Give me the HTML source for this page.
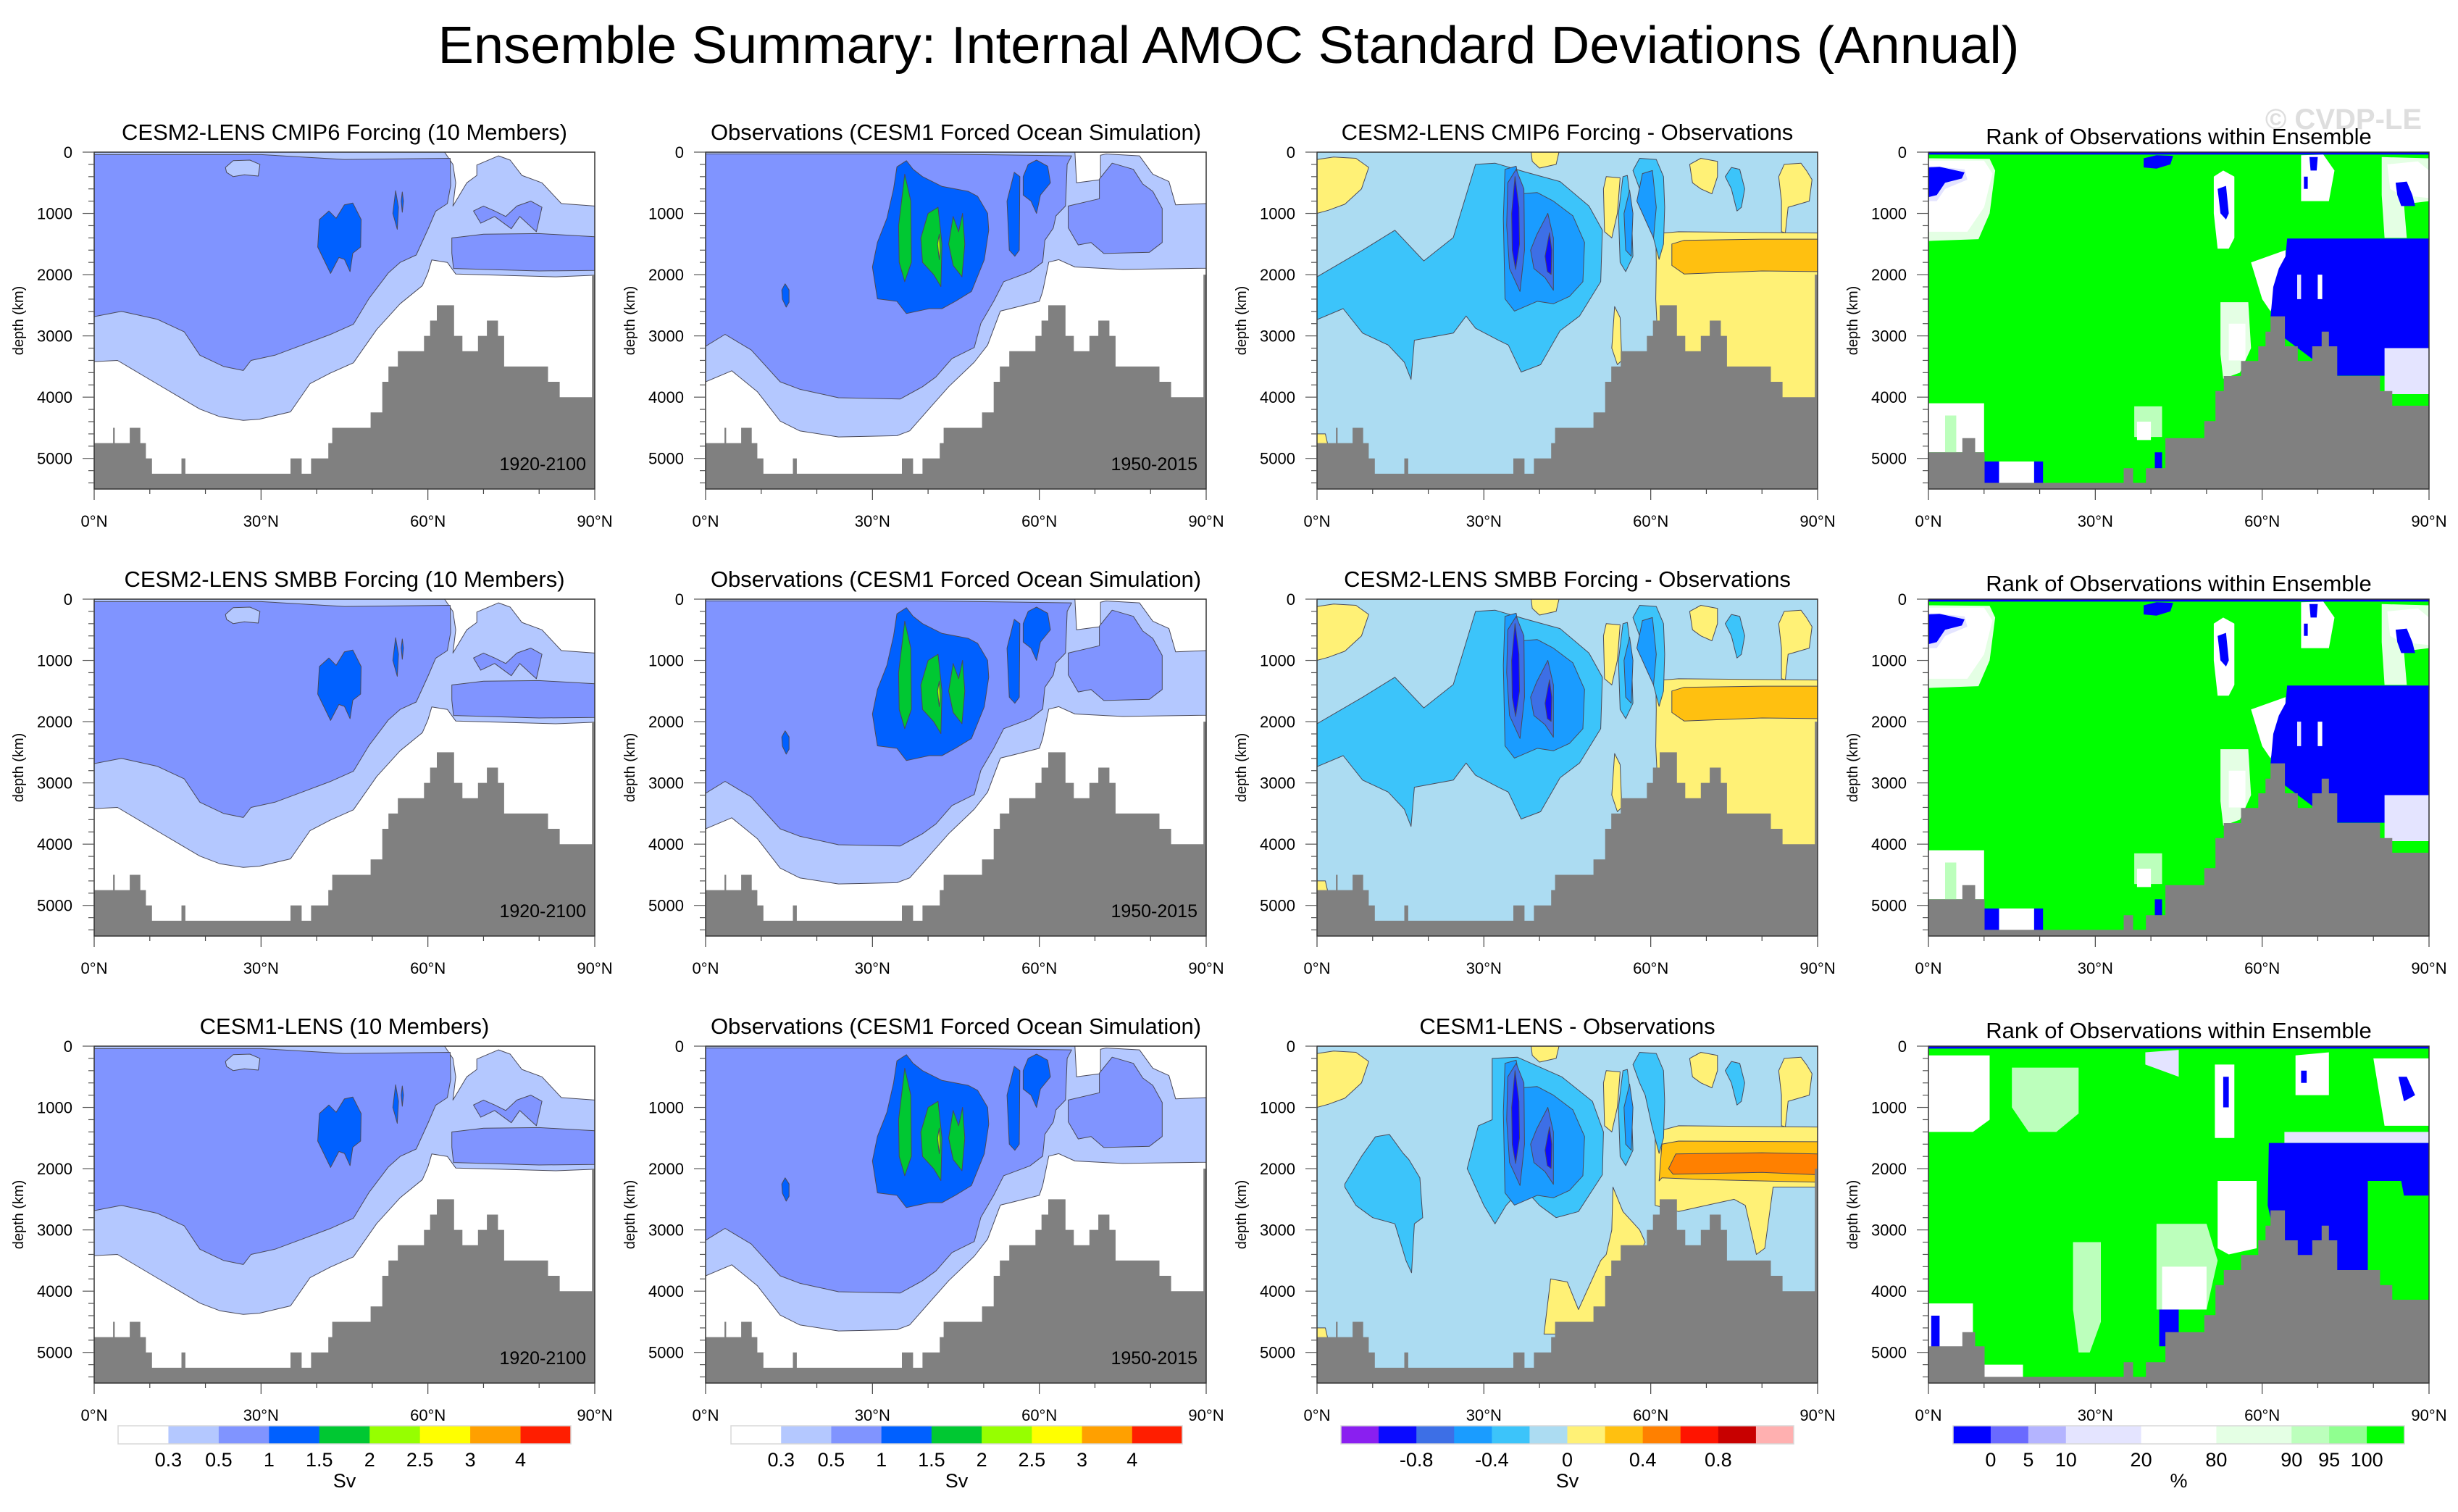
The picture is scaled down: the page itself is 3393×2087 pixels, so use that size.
<!DOCTYPE html>
<html><head><meta charset="utf-8"><title>Ensemble Summary AMOC</title>
<style>
html,body{margin:0;padding:0;background:#fff;}
svg{display:block;font-family:"Liberation Sans",Arial,sans-serif;}
</style></head>
<body>
<svg id="fig" xmlns="http://www.w3.org/2000/svg" width="3393" height="2087" viewBox="0 0 3393 2087">
<rect x="0" y="0" width="3393" height="2087" fill="#fff"/>
<text x="1696" y="87" font-size="72" text-anchor="middle" textLength="2183" lengthAdjust="spacingAndGlyphs">Ensemble Summary: Internal AMOC Standard Deviations (Annual)</text>
<text x="3343" y="178" font-size="40" font-weight="bold" fill="#dedede" text-anchor="end">© CVDP-LE</text>
<g id="panels"></g>
<g id="bars"></g>
</svg>
<script>
// ---------- data ----------
const latTicks = [0, 30, 60, 90];
const latTickLabels = ["0°N", "30°N", "60°N", "90°N"];
const depthTicks = [0, 1000, 2000, 3000, 4000, 5000];
const depthTickLabels = ["0", "1000", "2000", "3000", "4000", "5000"];
const bathyEdges = [0,3.4,3.7,6.4,8.3,9.3,10.4,15.7,16.4,35.3,37.3,39.0,42.1,42.8,49.7,51.8,52.9,54.6,59.3,60.4,61.6,64.7,66.2,69.0,70.6,72.6,73.7,81.6,83.7,89.5,90];
const bathyDepths = [4750,4500,4750,4500,4750,5000,5250,5000,5250,5000,5250,5000,4750,4500,4250,3750,3500,3250,3000,2750,2500,3000,3250,3000,2750,3000,3500,3750,4000,2000];
const rankEdges = [0,6.1,8.4,10.1,35.1,36.8,39.1,42.6,49.6,51.6,53.1,56.2,59.3,60.6,61.5,64.1,66.4,69.0,70.7,72.0,73.5,81.2,83.4,90];
const rankDepths = [4900,4670,4900,5400,5160,5400,5160,4670,4390,3900,3655,3410,3170,2930,2680,3170,3410,3170,2930,3170,3655,3900,4140];

const LIGHT_A = [[0,0],[63,0],[64.5,200],[65,500],[64.5,880],[67,500],[68.8,380],[68.8,210],[72.7,60],[74.8,130],[76.9,380],[80.5,500],[84,840],[90,880],[90,2010],[83,2035],[65,1990],[63.5,1800],[60.7,1760],[60,1970],[59,2180],[55,2475],[50.8,2895],[46.6,3440],[42.4,3610],[38.8,3780],[35.3,4240],[29.7,4360],[26.8,4380],[22.6,4320],[19,4195],[12,3820],[4.2,3400],[0,3420]];
const MED_A = [[0,40],[30,40],[45,120],[55,110],[64,100],[64.1,545],[63.5,840],[61.4,965],[60,1260],[57.9,1680],[55,1800],[52.9,1970],[49.4,2390],[46.6,2810],[42.4,2980],[37.4,3150],[32.5,3315],[28.2,3400],[26.8,3565],[23.3,3500],[19,3315],[16.2,2935],[11.3,2727],[4.9,2600],[0,2685]];
const POCKET_A = [[23.6,250],[25,140],[28,130],[29.8,200],[29.5,390],[27,370],[25,400],[23.8,330]];
const BAND_A = [[64.3,1400],[70,1340],[80,1330],[90,1380],[90,1930],[80,1940],[64.6,1900],[64.3,1650]];
const BLOB_A = [[68.2,960],[70,880],[72,960],[74,1050],[76,880],[78.5,800],[80.5,900],[79.5,1300],[76.5,1050],[75,1250],[72,1050],[69.5,1160]];
const DARK_A1 = [[40.5,1100],[42.2,960],[43.5,1080],[45,860],[46.5,830],[48,1100],[47.9,1550],[46.5,1650],[46,1950],[45,1750],[44,1720],[42.5,1980],[40.2,1550]];
const DARK_A2 = [[53.7,1000],[54.2,630],[54.7,900],[54.5,1260]];
const DARK_A3 = [[55.2,800],[55.4,650],[55.6,800],[55.4,980]];

const LIGHT_B = [[0,0],[66.4,0],[66.7,500],[71,450],[71,50],[72,30],[78,60],[80.4,360],[83.3,480],[84.5,860],[90,840],[90,1895],[75,1915],[66.4,1875],[63.5,1755],[61.7,1795],[60.6,2275],[60,2435],[55.9,2530],[53,2595],[50.7,3150],[48.3,3430],[43.7,3830],[40.2,4190],[36.7,4550],[34.4,4630],[23.9,4650],[16.9,4550],[13.4,4390],[9.3,3910],[4.7,3570],[0,3750]];
const MED_B = [[0,30],[40,30],[65.8,60],[65,200],[64.7,880],[63,1040],[62.5,1240],[61,1440],[60.6,1795],[58.3,1955],[53.6,2115],[51.8,2435],[49.5,2795],[48.3,3190],[44.3,3370],[41.4,3670],[39,3830],[35,4030],[23.9,4010],[16.9,3870],[13.4,3750],[8.2,3230],[3.5,2975],[0,3170]];
const MED_B_R = [[65.2,880],[70.8,760],[70.8,440],[73.1,180],[76.9,280],[78.6,520],[80.4,640],[82.1,920],[82.1,1475],[79.8,1635],[71.6,1655],[69.3,1475],[67,1515],[65.2,1235]];
const DARK_B1 = [[34.4,240],[36.1,140],[37.3,280],[39,400],[42.5,560],[47.2,640],[48.9,720],[50.7,1000],[50.9,1275],[50.1,1755],[47.8,2275],[44.9,2435],[42.5,2555],[40.2,2555],[36.1,2635],[34.4,2435],[30.9,2395],[30,1875],[30.9,1475],[32.6,1080],[33.8,600]];
const DARK_B2 = [[54.6,1600],[54.2,800],[55.5,330],[56.5,400],[56.4,1600],[55.6,1700]];
const DARK_B3 = [[57.1,400],[58,200],[59.5,130],[61.5,230],[62,500],[60.2,700],[59.5,1000],[58.5,800],[57.1,700]];
const DARK_B4 = [[13.7,2250],[14.3,2150],[15,2250],[15,2450],[14.5,2530],[13.8,2400]];
const GREEN_B1 = [[34.7,1200],[35.8,360],[36.9,800],[37,1800],[35.8,2115],[34.8,1800]];
const GREEN_B2 = [[38.7,1400],[40,1000],[41.8,900],[42.5,1500],[42.3,2195],[41,2000],[39,1800]];
const GREEN_B3 = [[43.7,1500],[44.5,1050],[45.5,1300],[46.2,1000],[46.6,1500],[46.1,2035],[44.5,1850]];
const YEL_B = [[41.7,1500],[42,1340],[42.2,1600],[42,1755]];

const YEL_C1 = [[0,120],[3,80],[7,100],[9.3,250],[8,600],[5,850],[2,950],[0,1000]];
const YEL_C2 = [[60.9,1330],[65,1300],[90,1320],[90,4500],[62,4500],[60.9,2400],[61,1800]];
const ORANGE_C = [[63.8,1500],[66,1440],[80,1420],[90,1420],[90,1950],[80,1940],[66,1990],[63.8,1850]];
const YEL_C3 = [[51.5,600],[52,400],[54.5,420],[54,1000],[53,1400],[51.7,1300]];
const YEL_C4 = [[67,200],[69,100],[72,150],[72,400],[71,680],[69,600],[67.5,500]];
const YEL_C5 = [[83,400],[84,200],[87,180],[88,300],[89,450],[88.5,800],[84.7,900],[84.2,1315],[83.5,1300],[83.5,800]];
const YEL_C6 = [[53,3200],[53.5,2520],[54.5,2700],[54.8,3400],[54,3470]];
const YEL_C7 = [[38.5,0],[43.5,0],[43,200],[40,260],[38.7,150]];
const YEL_C8 = [[0,4600],[1.5,4600],[2.5,5000],[0,5000]];
const CYAN_C = [[0,2035],[8.2,1600],[14,1275],[19.2,1775],[24.5,1395],[28.5,200],[32,180],[37.3,320],[43.7,480],[48.9,880],[51.3,1275],[51,2115],[47.2,2675],[43.7,2915],[40.2,3470],[36.7,3590],[34.4,3150],[32.6,3070],[28.5,2875],[26.8,2675],[24.5,2955],[17.5,3070],[16.9,3710],[15.7,3430],[12.8,3150],[8.2,2955],[4.7,2555],[0,2735]];
const CYAN_C2 = [[54.2,1000],[55,400],[55.8,380],[56.5,900],[56.8,1700],[55.5,1950],[54.5,1800]];
const CYAN_C3 = [[56.8,300],[58,100],[61,120],[62.3,400],[62.5,900],[62.3,1500],[61.5,1750],[60.2,1300],[59,800],[58,600]];
const CYAN_C4 = [[73.4,400],[74.5,250],[76,280],[76.9,600],[76.3,900],[75.5,960],[74.5,600]];
const BLUE_C1 = [[33.8,280],[35.8,230],[36.7,680],[39.6,660],[42.5,800],[46,1040],[48.1,1475],[47.8,2115],[45.4,2355],[42.5,2475],[39.6,2435],[35.5,2595],[33.8,2395],[33.5,1080]];
const BLUE_C2 = [[57.5,800],[58.5,350],[60.3,300],[61,900],[60.5,1400],[59.5,1200],[58.5,1000]];
const BLUE_C3 = [[55.2,1000],[56.2,620],[56.8,1000],[56.5,1700],[55.5,1600]];
const ROYAL_C1 = [[34.3,500],[35.8,280],[37.2,600],[37.3,1600],[36.5,2275],[34.6,1900],[34.1,1200]];
const ROYAL_C2 = [[38.4,1600],[39.5,1350],[41.5,1000],[42.5,1400],[42.5,2255],[41,2050],[39,1900]];
const NAVY_C1 = [[35,1000],[35.6,400],[36.3,900],[36.4,1500],[35.7,1915],[35.1,1600]];
const NAVY_C2 = [[41,1700],[41.8,1315],[42.2,1600],[42.1,1995],[41.4,1950]];
const CYAN_R3_LEFT = [[5,2250],[8,1800],[10.5,1480],[13,1440],[15.5,1750],[16.5,1850],[18.5,2150],[19,2800],[17.5,2900],[17,3700],[16,3500],[14,2900],[10,2800],[7,2600],[5,2300]];
const CYAN_R3_MAIN = [[27,2000],[29,1300],[31.5,1200],[31.5,200],[36,180],[44,500],[49.5,900],[51.5,1400],[51.3,2100],[47,2700],[43,2800],[40,2600],[37,2300],[34,2600],[32,2900],[30,2600]];
const YEL_R3 = [[60.8,1400],[65,1300],[90,1320],[90,2300],[82,2300],[80.5,3300],[79,3400],[77,2600],[75,2500],[70,2600],[65,2700],[60.8,2600]];
const YEL_R3_LOW = [[40.8,4700],[42,3800],[45,3850],[47,4300],[48.5,4000],[50,3700],[51,3500],[52,3400],[53,3000],[53.2,2300],[55,2700],[58,3000],[59,3200],[52,4500],[48,4700]];
const ORANGE_R3 = [[61.5,2200],[62,1600],[65,1550],[90,1560],[90,2220],[70,2180],[62,2150]];
const DKORANGE_R3 = [[63.2,2000],[64.5,1760],[80,1740],[90,1760],[90,2100],[80,2060],[64,2090]];

const RK_TOP = [[0,0],[90,0],[90,40],[0,40]];
const RK_W1 = [[0,100],[11,110],[12,300],[11,1000],[9,1420],[0,1450]];
const RK_W2 = [[0,140],[10,140],[11.5,350],[10,900],[7,1300],[0,1300]];
const RK_L1 = [[0,220],[6.5,280],[7,450],[3,600],[1.5,800],[0,800]];
const RK_B1 = [[0,250],[2,240],[6.5,330],[6,430],[3,500],[1.5,700],[0,735]];
const RK_W3 = [[51.3,400],[53,300],[55,400],[55,1400],[54,1575],[52,1575],[51.3,1000]];
const RK_B3 = [[52,600],[53.5,550],[54,1000],[53.5,1100],[52.5,1000]];
const RK_W4 = [[67,50],[71,40],[73,300],[72,800],[67,800]];
const RK_B4 = [[68.5,80],[70,80],[69.8,300],[68.7,300]];
const RK_B5 = [[67.5,400],[68.2,400],[68.2,600],[67.5,600]];
const RK_G6 = [[81.5,80],[90,100],[90,800],[85.5,850],[86,1400],[82,1400],[81.5,700]];
const RK_W6 = [[82.5,200],[88,150],[90,300],[90,750],[85,700],[83,600]];
const RK_B6 = [[84,500],[86,480],[87,700],[87.5,880],[85,880],[84.3,700]];
const RK_B7 = [[38.7,100],[41,50],[44,60],[43.5,200],[41,270],[38.7,250]];
const RK_W8 = [[58,1800],[64.2,1600],[64.2,2000],[63,2200],[61.5,2600],[60,2400]];
const RK_BLOCK = [[64.5,1410],[90,1410],[90,3300],[85.5,3300],[83,3650],[73,3650],[63.5,3000],[61.5,2700],[62,2200],[63,1900],[64.2,1700]];
const RK_L9 = [[82,3200],[90,3200],[90,3950],[82,3950]];
const RK_W10 = [[70,2000],[70.8,2000],[70.8,2400],[70,2400]];
const RK_W11 = [[66.3,2000],[67,2000],[67,2400],[66.3,2400]];
const RK_G12 = [[52.5,2450],[57.5,2450],[58,3200],[56,3600],[53,3700],[52.5,3300]];
const RK_W12 = [[54,2800],[57,2800],[57,3400],[54,3400]];
const RK_W13 = [[0,4100],[10,4100],[10,4900],[0,4900]];
const RK_G14 = [[3,4300],[5,4300],[5,4900],[3,4900]];
const RK_W15 = [[12.7,5050],[19,5050],[19,5400],[12.7,5400]];
const RK_B15 = [[10,5050],[12.7,5050],[12.7,5400],[10,5400]];
const RK_B16 = [[19,5050],[20.6,5050],[20.6,5400],[19,5400]];
const RK_B17 = [[40.7,4900],[42,4900],[42,5160],[40.7,5160]];
const RK_G18 = [[37,4150],[42,4150],[42,4650],[37,4650]];
const RK_W18 = [[37.5,4400],[40,4400],[40,4700],[37.5,4700]];
const R3_W1 = [[0,150],[11,150],[11,1200],[8,1400],[0,1400]];
const R3_G1 = [[15,350],[27,350],[27,1100],[23,1400],[18,1400],[15,1000]];
const R3_W2 = [[39,100],[45,60],[45,500],[39,300]];
const R3_W3 = [[51.5,300],[55,300],[55,1500],[51.5,1500]];
const R3_B3 = [[53,500],[54,500],[54,1000],[53,1000]];
const R3_W4 = [[66,150],[72,100],[72,800],[66,800]];
const R3_B4 = [[67,400],[68,400],[68,600],[67,600]];
const R3_W5 = [[80,200],[90,200],[90,1300],[82,1300]];
const R3_B5 = [[84.5,500],[86,500],[87.5,800],[85.5,900]];
const R3_L6 = [[64,1400],[90,1400],[90,1580],[64,1580]];
const R3_BLOCK = [[61.2,1580],[90,1580],[90,2440],[85.5,2440],[85,2200],[79,2200],[79,3700],[72,3700],[66,3500],[62,3000],[61,2600]];
const R3_W7 = [[52,2200],[59,2200],[59,3300],[54,3400],[52,3300]];
const R3_G8 = [[41,2900],[50,2900],[52,3500],[50,4300],[41,4300]];
const R3_W8 = [[42,3600],[50,3600],[50,4300],[42,4300]];
const R3_G9 = [[26,3200],[31,3200],[31,4500],[29,5000],[27,5000],[26,4300]];
const R3_B10 = [[41.5,4300],[45,4300],[45,4900],[41.5,4900]];
const R3_W11 = [[0,4200],[8,4200],[8,5000],[0,5000]];
const R3_B11 = [[0.5,4400],[2,4400],[2,5000],[0.5,5000]];
const R3_W12 = [[10,5200],[17,5200],[17,5400],[10,5400]];

const SV_COLORS = ["#ffffff","#b4c8ff","#8094ff","#0060ff","#00c832","#96ff00","#ffff00","#ffa000","#ff1e00"];
const SV_LABELS = ["0.3","0.5","1","1.5","2","2.5","3","4"];
const DIFF_COLORS = ["#8a1ff0","#0a0aff","#3d6fe6","#1a9cff","#3cc4fa","#acdcf2","#fff176","#ffc010","#ff8000","#ff1400","#c80000","#ffb0b0"];
const DIFF_LABELS = ["-0.8","-0.4","0","0.4","0.8"];
const DIFF_LABEL_POS = [2,4,6,8,10];
const RANK_COLORS = ["#0000ff","#6a6aff","#b4b4ff","#e4e4ff","#ffffff","#e4ffe4","#bcffbc","#90ff90","#00ff00"];
const RANK_WEIGHTS = [1,1,1,2,2,2,1,1,1];
const RANK_LABELS = ["0","5","10","20","80","90","95","100"];

const PX = [130, 974, 1818, 2662], PY = [210, 827, 1444], W = 691, H = 465, DMAX = 5500;
const NS = "http://www.w3.org/2000/svg";
function mk(tag, attrs, parent) { const e = document.createElementNS(NS, tag); for (const k in attrs) e.setAttribute(k, attrs[k]); parent.appendChild(e); return e; }
function xs(c, lat) { return PX[c] + lat / 90 * W; }
function ys(r, d) { return PY[r] + d / DMAX * H; }
function pts(r, c, poly) { return poly.map(p => xs(c, p[0]).toFixed(1) + "," + ys(r, p[1]).toFixed(1)).join(" "); }

const modelLayers = [[SV_COLORS[1], LIGHT_A], [SV_COLORS[2], MED_A], [SV_COLORS[1], POCKET_A], [SV_COLORS[2], BAND_A], [SV_COLORS[2], BLOB_A], [SV_COLORS[3], DARK_A1], [SV_COLORS[3], DARK_A2], [SV_COLORS[3], DARK_A3]];
const obsLayers = [[SV_COLORS[1], LIGHT_B], [SV_COLORS[2], MED_B], [SV_COLORS[2], MED_B_R], [SV_COLORS[3], DARK_B1], [SV_COLORS[3], DARK_B2], [SV_COLORS[3], DARK_B3], [SV_COLORS[3], DARK_B4], [SV_COLORS[4], GREEN_B1], [SV_COLORS[4], GREEN_B2], [SV_COLORS[4], GREEN_B3], [SV_COLORS[5], YEL_B]];
const diffLayers = [[DIFF_COLORS[6], YEL_C1], [DIFF_COLORS[6], YEL_C2], [DIFF_COLORS[7], ORANGE_C], [DIFF_COLORS[6], YEL_C3], [DIFF_COLORS[6], YEL_C4], [DIFF_COLORS[6], YEL_C5], [DIFF_COLORS[6], YEL_C6], [DIFF_COLORS[6], YEL_C7], [DIFF_COLORS[6], YEL_C8], [DIFF_COLORS[4], CYAN_C], [DIFF_COLORS[4], CYAN_C2], [DIFF_COLORS[4], CYAN_C3], [DIFF_COLORS[4], CYAN_C4], [DIFF_COLORS[3], BLUE_C1], [DIFF_COLORS[3], BLUE_C2], [DIFF_COLORS[3], BLUE_C3], [DIFF_COLORS[2], ROYAL_C1], [DIFF_COLORS[2], ROYAL_C2], [DIFF_COLORS[1], NAVY_C1], [DIFF_COLORS[1], NAVY_C2]];
const diff3Layers = [[DIFF_COLORS[6], YEL_C1], [DIFF_COLORS[6], YEL_R3], [DIFF_COLORS[6], YEL_R3_LOW], [DIFF_COLORS[7], ORANGE_R3], [DIFF_COLORS[8], DKORANGE_R3], [DIFF_COLORS[6], YEL_C3], [DIFF_COLORS[6], YEL_C4], [DIFF_COLORS[6], YEL_C5], [DIFF_COLORS[6], YEL_C7], [DIFF_COLORS[6], YEL_C8], [DIFF_COLORS[4], CYAN_R3_LEFT], [DIFF_COLORS[4], CYAN_R3_MAIN], [DIFF_COLORS[4], CYAN_C2], [DIFF_COLORS[4], CYAN_C3], [DIFF_COLORS[4], CYAN_C4], [DIFF_COLORS[3], BLUE_C1], [DIFF_COLORS[3], BLUE_C3], [DIFF_COLORS[2], ROYAL_C1], [DIFF_COLORS[2], ROYAL_C2], [DIFF_COLORS[1], NAVY_C1], [DIFF_COLORS[1], NAVY_C2]];
const rankLayers = [["#0000ff", RK_TOP], ["#e4ffe4", RK_W1], ["#ffffff", RK_W2], ["#e4e4ff", RK_L1], ["#0000ff", RK_B1], ["#ffffff", RK_W3], ["#0000ff", RK_B3], ["#ffffff", RK_W4], ["#0000ff", RK_B4], ["#0000ff", RK_B5], ["#e4ffe4", RK_G6], ["#ffffff", RK_W6], ["#0000ff", RK_B6], ["#0000ff", RK_B7], ["#ffffff", RK_W8], ["#0000ff", RK_BLOCK], ["#e4e4ff", RK_L9], ["#ffffff", RK_W10], ["#e4e4ff", RK_W11], ["#e4ffe4", RK_G12], ["#ffffff", RK_W12], ["#ffffff", RK_W13], ["#bcffbc", RK_G14], ["#ffffff", RK_W15], ["#0000ff", RK_B15], ["#0000ff", RK_B16], ["#0000ff", RK_B17], ["#bcffbc", RK_G18], ["#ffffff", RK_W18]];
const rank3Layers = [["#0000ff", RK_TOP], ["#ffffff", R3_W1], ["#bcffbc", R3_G1], ["#e4e4ff", R3_W2], ["#ffffff", R3_W3], ["#0000ff", R3_B3], ["#ffffff", R3_W4], ["#0000ff", R3_B4], ["#ffffff", R3_W5], ["#0000ff", R3_B5], ["#e4e4ff", R3_L6], ["#0000ff", R3_BLOCK], ["#ffffff", R3_W7], ["#bcffbc", R3_G8], ["#ffffff", R3_W8], ["#bcffbc", R3_G9], ["#0000ff", R3_B10], ["#ffffff", R3_W11], ["#0000ff", R3_B11], ["#ffffff", R3_W12]];

const panels = [
  {r:0,c:0,title:"CESM2-LENS CMIP6 Forcing (10 Members)",kind:"m",bg:"#fff",layers:modelLayers,years:"1920-2100"},
  {r:0,c:1,title:"Observations (CESM1 Forced Ocean Simulation)",kind:"o",bg:"#fff",layers:obsLayers,years:"1950-2015"},
  {r:0,c:2,title:"CESM2-LENS CMIP6 Forcing - Observations",kind:"d",bg:"#acdcf2",layers:diffLayers},
  {r:0,c:3,title:"Rank of Observations within Ensemble",kind:"k",bg:"#00ff00",layers:rankLayers},
  {r:1,c:0,title:"CESM2-LENS SMBB Forcing (10 Members)",kind:"m",bg:"#fff",layers:modelLayers,years:"1920-2100"},
  {r:1,c:1,title:"Observations (CESM1 Forced Ocean Simulation)",kind:"o",bg:"#fff",layers:obsLayers,years:"1950-2015"},
  {r:1,c:2,title:"CESM2-LENS SMBB Forcing - Observations",kind:"d",bg:"#acdcf2",layers:diffLayers},
  {r:1,c:3,title:"Rank of Observations within Ensemble",kind:"k",bg:"#00ff00",layers:rankLayers},
  {r:2,c:0,title:"CESM1-LENS (10 Members)",kind:"m",bg:"#fff",layers:modelLayers,years:"1920-2100"},
  {r:2,c:1,title:"Observations (CESM1 Forced Ocean Simulation)",kind:"o",bg:"#fff",layers:obsLayers,years:"1950-2015"},
  {r:2,c:2,title:"CESM1-LENS - Observations",kind:"d",bg:"#acdcf2",layers:diff3Layers},
  {r:2,c:3,title:"Rank of Observations within Ensemble",kind:"k",bg:"#00ff00",layers:rank3Layers}
];

const root = document.getElementById("panels");
const defs = mk("defs", {}, root);
panels.forEach((p, i) => {
  const r = p.r, c = p.c, x0 = PX[c], y0 = PY[r];
  const g = mk("g", {}, root);
  
  
  const cp = mk("clipPath", {id: "clip" + i}, defs);
  mk("rect", {x: x0, y: y0, width: W, height: H}, cp);
  const t = mk("text", {x: x0 + W / 2, y: y0 - (p.kind === "k" ? 11 : 17), "font-size": 31, "text-anchor": "middle"}, g);
  t.textContent = p.title;
  
  
  const plot = mk("g", {"clip-path": "url(#clip" + i + ")"}, g);
  
  
  mk("rect", {x: x0, y: y0, width: W, height: H, fill: p.bg}, plot);
  const stroke = p.kind === "k" ? "none" : "#4a4a5a";
  p.layers.forEach(L => {
    const poly = mk("polygon", {points: pts(r, c, L[1]), fill: L[0], stroke: stroke, "stroke-width": 1, "stroke-linejoin": "round"}, plot);
    
    
  });
  const E = p.kind === "k" ? rankEdges : bathyEdges, D = p.kind === "k" ? rankDepths : bathyDepths;
  let d = "M" + xs(c, 0) + "," + ys(r, DMAX);
  for (let k = 0; k < D.length; k++) {
    d += " L" + xs(c, E[k]).toFixed(1) + "," + ys(r, D[k]).toFixed(1) + " L" + xs(c, E[k + 1]).toFixed(1) + "," + ys(r, D[k]).toFixed(1);
  }
  d += " L" + xs(c, 90) + "," + ys(r, DMAX) + " Z";
  const bp = mk("path", {d: d, fill: "#808080"}, plot);
  
  
  if (p.years) {
    const yt = mk("text", {x: x0 + W - 12, y: y0 + H - 26, "font-size": 25, "text-anchor": "end"}, g);
    yt.textContent = p.years;
    
    
  }
  const fr = mk("rect", {x: x0, y: y0, width: W, height: H, fill: "none", stroke: "#333", "stroke-width": 1.5}, g);
  
  
  for (let dv = 0; dv <= 5400; dv += 200) {
    const major = dv % 1000 === 0;
    mk("line", {x1: x0 - (major ? 16 : 8), x2: x0, y1: ys(r, dv), y2: ys(r, dv), stroke: "#555", "stroke-width": 1.2}, g);
  }
  depthTicks.forEach((dv, k) => {
    const tl = mk("text", {x: x0 - 30, y: ys(r, dv) + 8, "font-size": 22, "text-anchor": "end"}, g);
    tl.textContent = depthTickLabels[k];
    
    
  });
  const yl = mk("text", {x: 0, y: 0, "font-size": 20, "text-anchor": "middle", transform: "translate(" + (x0 - 98) + "," + (y0 + H / 2) + ") rotate(-90)"}, g);
  yl.textContent = "depth (km)";
  
  
  for (let lv = 0; lv <= 90; lv += 10) {
    const major = lv % 30 === 0;
    mk("line", {x1: xs(c, lv), x2: xs(c, lv), y1: y0 + H, y2: y0 + H + (major ? 15 : 7), stroke: "#444", "stroke-width": 1.2}, g);
  }
  latTicks.forEach((lv, k) => {
    const tl = mk("text", {x: xs(c, lv), y: y0 + H + 52, "font-size": 22, "text-anchor": "middle"}, g);
    tl.textContent = latTickLabels[k];
    
    
  });
});

const bars = document.getElementById("bars");
function colorbar(name, x0, x1, colors, weights, labels, labelPos, unit) {
  const g = mk("g", {}, bars);
  
  
  const tot = weights.reduce((a, b) => a + b, 0), y0 = 1968, h = 25;
  let acc = 0; const bounds = [x0];
  colors.forEach((col, k) => {
    const a = x0 + acc / tot * (x1 - x0); acc += weights[k];
    const b = x0 + acc / tot * (x1 - x0); bounds.push(b);
    const box = mk("rect", {x: a, y: y0, width: b - a + 0.5, height: h, fill: col}, g);
    
    
  });
  mk("rect", {x: x0, y: y0, width: x1 - x0, height: h, fill: "none", stroke: "#d8d8d8", "stroke-width": 1.5}, g);
  labels.forEach((lab, k) => {
    const t = mk("text", {x: bounds[labelPos[k]], y: 2024, "font-size": 27, "text-anchor": "middle"}, g);
    t.textContent = lab;
    
    
  });
  const u = mk("text", {x: (x0 + x1) / 2, y: 2053, "font-size": 27, "text-anchor": "middle"}, g);
  u.textContent = unit;
  
  
}
const ones9 = [1,1,1,1,1,1,1,1,1], ones12 = [1,1,1,1,1,1,1,1,1,1,1,1], pos8 = [1,2,3,4,5,6,7,8];
colorbar("colorbar-sv-model", 163, 788, SV_COLORS, ones9, SV_LABELS, pos8, "Sv");
colorbar("colorbar-sv-obs", 1009, 1632, SV_COLORS, ones9, SV_LABELS, pos8, "Sv");
colorbar("colorbar-difference", 1851, 2476, DIFF_COLORS, ones12, DIFF_LABELS, DIFF_LABEL_POS, "Sv");
colorbar("colorbar-rank", 2696, 3319, RANK_COLORS, RANK_WEIGHTS, RANK_LABELS, pos8, "%");
</script>
</body></html>
